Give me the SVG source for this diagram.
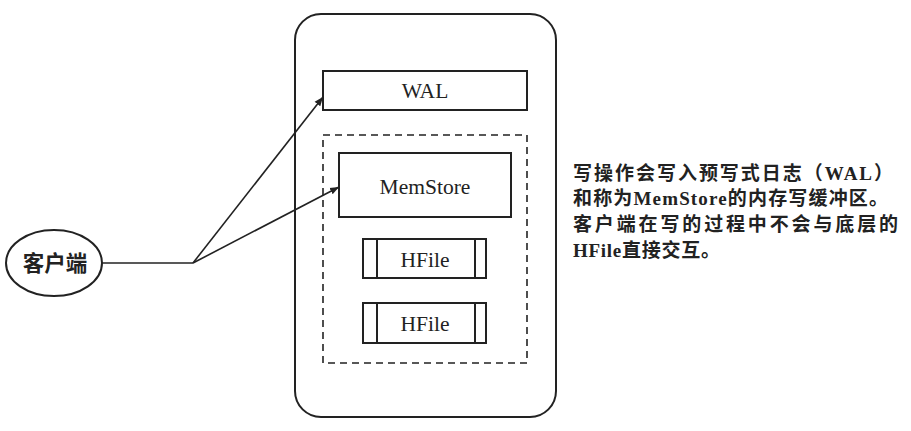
<svg xmlns="http://www.w3.org/2000/svg" width="911" height="431" viewBox="0 0 911 431">
<style>
.box{fill:#fff;stroke:#222;stroke-width:2}
.lbl{font-family:"Liberation Serif","Noto Sans CJK SC",serif;font-size:21.5px;fill:#222;text-anchor:middle;dominant-baseline:central}
.note{font-family:"Liberation Serif","Noto Sans CJK SC",serif;font-size:19px;font-weight:bold;fill:#222}
.conn{fill:none;stroke:#222;stroke-width:1.6}
</style>
<defs>
<marker id="arr" viewBox="0 0 10 10" refX="10" refY="5" markerWidth="9" markerHeight="9" markerUnits="userSpaceOnUse" orient="auto">
<path d="M0,1 L10,5 L0,9 z" fill="#222"/>
</marker>
</defs>
<rect width="911" height="431" fill="#fff"/>
<g id="server">
<rect class="box" x="295" y="14" width="261" height="403" rx="26" ry="26"/>
</g>
<g id="store">
<rect x="323" y="135" width="204" height="228" fill="none" stroke="#222" stroke-width="1.6" stroke-dasharray="7,5"/>
</g>
<g id="wal">
<rect class="box" x="323" y="71" width="204" height="39"/>
<text class="lbl" x="425" y="91">WAL</text>
</g>
<g id="memstore">
<rect class="box" x="339" y="153" width="172" height="64"/>
<text class="lbl" x="425" y="187">MemStore</text>
</g>
<g id="hfile1">
<rect class="box" x="363" y="239" width="123" height="39"/>
<line x1="377" y1="239" x2="377" y2="278" stroke="#222" stroke-width="2"/>
<line x1="475" y1="239" x2="475" y2="278" stroke="#222" stroke-width="2"/>
<text class="lbl" x="425" y="260">HFile</text>
</g>
<g id="hfile2">
<rect class="box" x="363" y="303" width="123" height="40"/>
<line x1="377" y1="303" x2="377" y2="343" stroke="#222" stroke-width="2"/>
<line x1="475" y1="303" x2="475" y2="343" stroke="#222" stroke-width="2"/>
<text class="lbl" x="425" y="324">HFile</text>
</g>
<g id="client">
<ellipse cx="54" cy="263" rx="48" ry="33" fill="#fff" stroke="#222" stroke-width="2"/>
<text class="lbl" x="55" y="264" font-size="21px" font-weight="bold">客户端</text>
</g>
<g id="connectors">
<path class="conn" d="M102,263 L193,263"/>
<path class="conn" d="M193,263 L323,97" marker-end="url(#arr)"/>
<path class="conn" d="M193,263 L339,187" marker-end="url(#arr)"/>
</g>
<g id="note">
<text class="note" x="573" y="180" textLength="320" lengthAdjust="spacing">写操作会写入预写式日志（WAL）</text>
<text class="note" x="573" y="205" textLength="315" lengthAdjust="spacing">和称为MemStore的内存写缓冲区。</text>
<text class="note" x="573" y="231" textLength="325" lengthAdjust="spacing">客户端在写的过程中不会与底层的</text>
<text class="note" x="573" y="257" textLength="147" lengthAdjust="spacing">HFile直接交互。</text>
</g>
</svg>
